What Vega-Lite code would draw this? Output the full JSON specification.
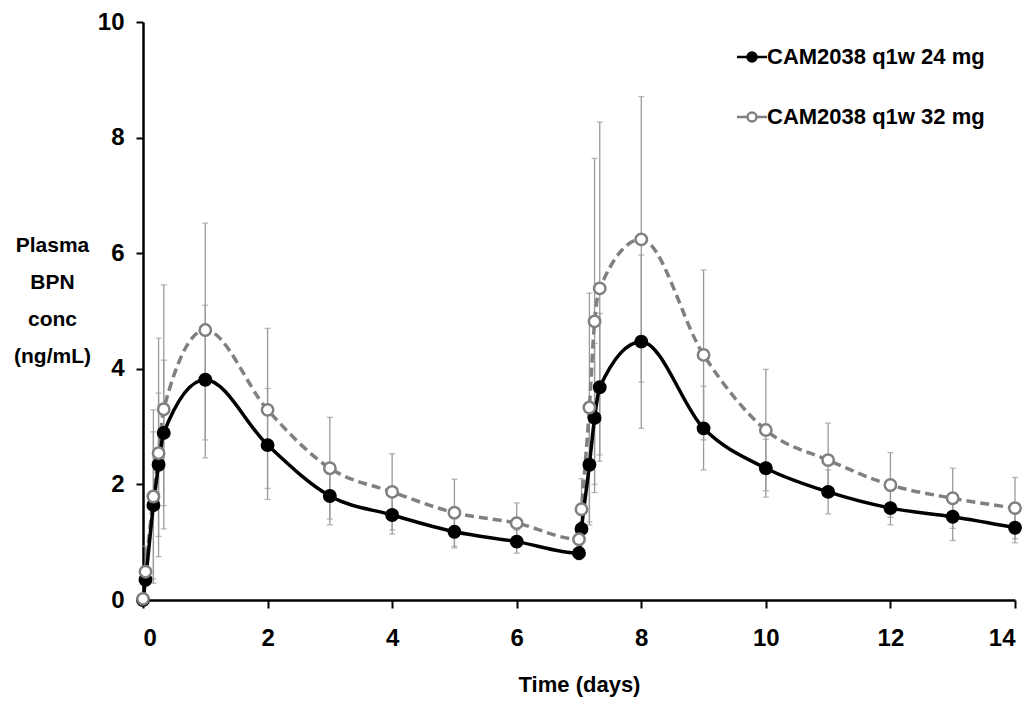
{
  "$schema": "https://vega.github.io/schema/vega-lite/v6.json",
  "width": 872,
  "height": 578,
  "autosize": "none",
  "padding": {"left": 143, "top": 22, "right": 14, "bottom": 117},
  "background": "white",
  "config": {
    "font": "Liberation Sans",
    "view": {"stroke": null},
    "axis": {
      "grid": false,
      "domainColor": "#000000",
      "domainWidth": 2.5,
      "tickColor": "#000000",
      "tickWidth": 2,
      "tickSize": 8,
      "labelFontSize": 24,
      "labelFontWeight": "bold",
      "labelColor": "#000000",
      "titleFontSize": 22,
      "titleFontWeight": "bold",
      "titleColor": "#000000"
    }
  },
  "data": {
    "values": [
      {"t": 0, "series": "CAM2038 q1w 24 mg", "v": 0.0, "lo": 0.0, "hi": 0.0},
      {"t": 0.04, "series": "CAM2038 q1w 24 mg", "v": 0.35, "lo": 0.25, "hi": 0.45},
      {"t": 0.167, "series": "CAM2038 q1w 24 mg", "v": 1.64, "lo": 0.37, "hi": 2.91},
      {"t": 0.25, "series": "CAM2038 q1w 24 mg", "v": 2.34, "lo": 1.10, "hi": 3.58},
      {"t": 0.333, "series": "CAM2038 q1w 24 mg", "v": 2.89, "lo": 1.63, "hi": 4.15},
      {"t": 1, "series": "CAM2038 q1w 24 mg", "v": 3.81, "lo": 2.46, "hi": 5.10},
      {"t": 2, "series": "CAM2038 q1w 24 mg", "v": 2.68, "lo": 1.74, "hi": 3.66},
      {"t": 3, "series": "CAM2038 q1w 24 mg", "v": 1.80, "lo": 1.30, "hi": 2.30},
      {"t": 4, "series": "CAM2038 q1w 24 mg", "v": 1.47, "lo": 1.14, "hi": 1.80},
      {"t": 5, "series": "CAM2038 q1w 24 mg", "v": 1.18, "lo": 0.90, "hi": 1.46},
      {"t": 6, "series": "CAM2038 q1w 24 mg", "v": 1.01, "lo": 0.81, "hi": 1.21},
      {"t": 7, "series": "CAM2038 q1w 24 mg", "v": 0.81, "lo": 0.70, "hi": 0.92},
      {"t": 7.04, "series": "CAM2038 q1w 24 mg", "v": 1.23, "lo": 1.00, "hi": 1.46},
      {"t": 7.167, "series": "CAM2038 q1w 24 mg", "v": 2.34, "lo": 1.30, "hi": 3.38},
      {"t": 7.25, "series": "CAM2038 q1w 24 mg", "v": 3.15, "lo": 1.86, "hi": 4.44},
      {"t": 7.333, "series": "CAM2038 q1w 24 mg", "v": 3.68, "lo": 2.40, "hi": 4.96},
      {"t": 8, "series": "CAM2038 q1w 24 mg", "v": 4.47, "lo": 2.97, "hi": 5.97},
      {"t": 9, "series": "CAM2038 q1w 24 mg", "v": 2.97, "lo": 2.25, "hi": 3.70},
      {"t": 10, "series": "CAM2038 q1w 24 mg", "v": 2.28, "lo": 1.78, "hi": 2.78},
      {"t": 11, "series": "CAM2038 q1w 24 mg", "v": 1.87, "lo": 1.49, "hi": 2.25},
      {"t": 12, "series": "CAM2038 q1w 24 mg", "v": 1.59, "lo": 1.30, "hi": 1.88},
      {"t": 13, "series": "CAM2038 q1w 24 mg", "v": 1.44, "lo": 1.03, "hi": 1.85},
      {"t": 14, "series": "CAM2038 q1w 24 mg", "v": 1.25, "lo": 0.99, "hi": 1.51},
      {"t": 0, "series": "CAM2038 q1w 32 mg", "v": 0.02, "lo": 0.02, "hi": 0.02},
      {"t": 0.04, "series": "CAM2038 q1w 32 mg", "v": 0.49, "lo": 0.05, "hi": 0.93},
      {"t": 0.167, "series": "CAM2038 q1w 32 mg", "v": 1.79, "lo": 0.29, "hi": 3.29},
      {"t": 0.25, "series": "CAM2038 q1w 32 mg", "v": 2.54, "lo": 0.75, "hi": 4.53},
      {"t": 0.333, "series": "CAM2038 q1w 32 mg", "v": 3.30, "lo": 1.23, "hi": 5.45},
      {"t": 1, "series": "CAM2038 q1w 32 mg", "v": 4.67, "lo": 2.77, "hi": 6.52},
      {"t": 2, "series": "CAM2038 q1w 32 mg", "v": 3.29, "lo": 1.93, "hi": 4.70},
      {"t": 3, "series": "CAM2038 q1w 32 mg", "v": 2.28, "lo": 1.40, "hi": 3.16},
      {"t": 4, "series": "CAM2038 q1w 32 mg", "v": 1.87, "lo": 1.21, "hi": 2.53},
      {"t": 5, "series": "CAM2038 q1w 32 mg", "v": 1.51, "lo": 0.93, "hi": 2.09},
      {"t": 6, "series": "CAM2038 q1w 32 mg", "v": 1.33, "lo": 0.98, "hi": 1.68},
      {"t": 7, "series": "CAM2038 q1w 32 mg", "v": 1.05, "lo": 0.80, "hi": 1.30},
      {"t": 7.04, "series": "CAM2038 q1w 32 mg", "v": 1.57, "lo": 1.04, "hi": 2.10},
      {"t": 7.167, "series": "CAM2038 q1w 32 mg", "v": 3.33, "lo": 1.35, "hi": 5.31},
      {"t": 7.25, "series": "CAM2038 q1w 32 mg", "v": 4.82, "lo": 2.00, "hi": 7.64},
      {"t": 7.333, "series": "CAM2038 q1w 32 mg", "v": 5.39, "lo": 2.51, "hi": 8.27},
      {"t": 8, "series": "CAM2038 q1w 32 mg", "v": 6.24, "lo": 3.77, "hi": 8.71},
      {"t": 9, "series": "CAM2038 q1w 32 mg", "v": 4.24, "lo": 2.77, "hi": 5.71},
      {"t": 10, "series": "CAM2038 q1w 32 mg", "v": 2.94, "lo": 1.89, "hi": 3.99},
      {"t": 11, "series": "CAM2038 q1w 32 mg", "v": 2.42, "lo": 1.78, "hi": 3.06},
      {"t": 12, "series": "CAM2038 q1w 32 mg", "v": 1.99, "lo": 1.43, "hi": 2.55},
      {"t": 13, "series": "CAM2038 q1w 32 mg", "v": 1.76, "lo": 1.24, "hi": 2.28},
      {"t": 14, "series": "CAM2038 q1w 32 mg", "v": 1.59, "lo": 1.06, "hi": 2.12}
    ]
  },
  "encoding": {
    "x": {
      "field": "t",
      "type": "quantitative",
      "scale": {"domain": [0, 14], "nice": false, "zero": false},
      "axis": {"values": [0, 2, 4, 6, 8, 10, 12, 14], "title": "Time (days)", "labelPadding": 18, "titlePadding": 24}
    },
    "y": {
      "field": "v",
      "type": "quantitative",
      "scale": {"domain": [0, 10], "nice": false},
      "axis": {
        "values": [0, 2, 4, 6, 8, 10],
        "tickSize": 7,
        "labelPadding": 12,
        "title": ["Plasma", "BPN", "conc", "(ng/mL)"],
        "titleFontSize": 21,
        "titleAngle": 0,
        "titleAlign": "center",
        "titleBaseline": "top",
        "titleX": -91,
        "titleY": 212,
        "titleLineHeight": 37
      }
    }
  },
  "layer": [
    {
      "mark": {"type": "rule", "color": "#9a9a9a", "strokeWidth": 1.3},
      "encoding": {"y": {"field": "lo", "type": "quantitative"}, "y2": {"field": "hi"}}
    },
    {
      "mark": {"type": "tick", "orient": "horizontal", "color": "#9a9a9a", "thickness": 1.3, "size": 6},
      "encoding": {"y": {"field": "lo", "type": "quantitative"}}
    },
    {
      "mark": {"type": "tick", "orient": "horizontal", "color": "#9a9a9a", "thickness": 1.3, "size": 6},
      "encoding": {"y": {"field": "hi", "type": "quantitative"}}
    },
    {
      "transform": [{"filter": "datum.series === 'CAM2038 q1w 32 mg'"}],
      "mark": {"type": "line", "interpolate": "monotone", "strokeWidth": 3.5, "color": "#808080", "strokeDash": [9, 5]},
      "encoding": {}
    },
    {
      "transform": [{"filter": "datum.series === 'CAM2038 q1w 24 mg'"}],
      "mark": {"type": "line", "interpolate": "monotone", "strokeWidth": 3.5, "color": "#000000"},
      "encoding": {}
    },
    {
      "mark": {"type": "point", "shape": "circle", "size": 130, "strokeWidth": 2.5, "opacity": 1, "filled": false},
      "encoding": {
        "stroke": {
          "field": "series",
          "type": "nominal",
          "scale": {"domain": ["CAM2038 q1w 24 mg", "CAM2038 q1w 32 mg"], "range": ["#000000", "#808080"]},
          "legend": {
            "orient": "none",
            "legendX": 598,
            "legendY": 24,
            "title": null,
            "symbolType": "M -2.5 0 L -0.75 0 M 0.75 0 L 2.5 0 M 0.75 0 A 0.75 0.75 0 1 1 -0.75 0 A 0.75 0.75 0 1 1 0.75 0 Z",
            "symbolSize": 144,
            "symbolStrokeWidth": 2.5,
            "labelFontSize": 22,
            "labelFontWeight": "bold",
            "labelColor": "#000000",
            "labelOffset": 4,
            "rowPadding": 38,
            "labelLimit": 400
          }
        },
        "fill": {
          "field": "series",
          "type": "nominal",
          "scale": {"domain": ["CAM2038 q1w 24 mg", "CAM2038 q1w 32 mg"], "range": ["#000000", "#ffffff"]}
        }
      }
    }
  ]
}
